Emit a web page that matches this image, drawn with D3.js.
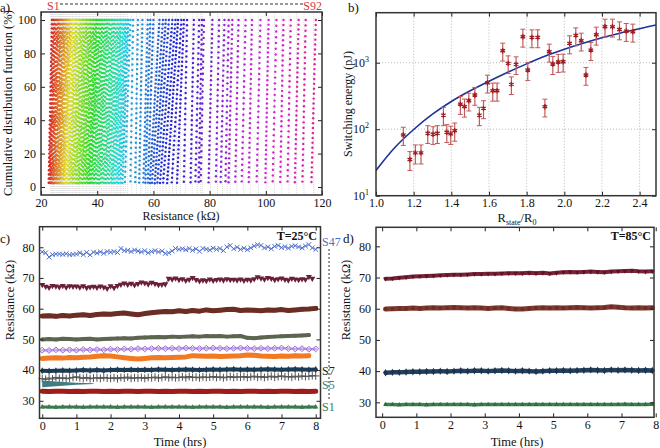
<!DOCTYPE html>
<html>
<head>
<meta charset="utf-8">
<script src="https://cdn.jsdelivr.net/npm/d3@7"></script>
<style>
body { margin: 0; background: #fff; }
</style>
</head>
<body>
<div id="viz"></div>
<script>
var serif = "Liberation Serif, Times New Roman, DejaVu Serif, serif";

// ---- panel a data: 92 states, centre resistance (kOhm), CDF spread, samples
var stateR = [
  23.3, 23.7, 24.1, 24.5, 24.9, 25.3, 25.7, 26.1, 26.5, 26.9,
  27.3, 27.7, 28.1, 28.5, 28.9, 29.3, 29.7, 30.2, 30.7, 31.2,
  31.7, 32.2, 32.7, 33.2, 33.7, 34.2, 34.7, 35.2, 35.7, 36.2,
  36.7, 37.2, 37.7, 38.2, 38.7, 39.2, 39.7, 40.3, 40.9, 41.5,
  42.1, 42.7, 43.3, 43.9, 44.5, 45.1, 45.7, 46.3, 46.8, 47.3,
  47.8, 48.3, 48.8, 49.4, 50.0, 50.8,
  52.3, 54.0, 55.5, 57.2, 58.0, 59.0, 60.4, 61.4, 62.4, 63.4,
  64.5, 65.6, 66.8, 68.2, 69.6,
  71.4, 73.8, 75.6, 76.7, 77.4, 80.3, 82.8, 84.6, 86.2, 87.4,
  89.7, 92.1, 94.5, 97.4, 100.4, 103.1, 105.7, 108.3, 111.0, 113.6, 117.0
];
var stateW = [
  1.2, 1.4, 1.6, 1.8, 2.0, 2.0, 2.2, 2.2, 2.4, 2.4,
  2.4, 2.4, 2.6, 2.6, 2.6, 2.6, 2.8, 2.8, 2.8, 2.8,
  2.8, 3.0, 3.0, 3.0, 3.0, 3.0, 3.0, 3.0, 3.0, 3.0,
  3.0, 3.0, 3.0, 3.0, 3.0, 3.2, 3.2, 3.2, 3.2, 3.2,
  3.2, 3.2, 3.2, 3.2, 3.2, 3.2, 3.2, 3.0, 3.0, 2.8,
  2.8, 2.6, 2.6, 2.4, 2.2, 2.0,
  1.0, 1.0, 1.2, 1.6, 1.8, 2.0, 3.5, 4.0, 4.0, 4.2,
  4.5, 4.5, 4.0, 3.5, 2.5,
  1.2, 1.2, 1.4, 1.2, 1.2, 1.4, 1.2, 1.4, 1.2, 1.4,
  1.2, 1.4, 1.2, 1.4, 1.2, 1.4, 1.2, 1.2, 1.4, 1.2, 1.6
];
var stateN = [
  40, 38, 42, 36, 40, 44, 38, 41, 37, 43,
  39, 42, 36, 40, 38, 44, 41, 37, 39, 43,
  40, 36, 42, 38, 41, 39, 44, 37, 40, 42,
  38, 41, 36, 43, 39, 40, 37, 42, 38, 41,
  44, 39, 36, 40, 42, 38, 41, 37, 43, 39,
  40, 36, 42, 38, 41, 33,
  30, 34, 38, 36, 40, 38, 42, 39, 44, 37,
  41, 38, 43, 36, 40,
  32, 35, 30, 34, 28, 36, 31, 33, 29, 35,
  32, 30, 34, 31, 36, 29, 33, 30, 35, 31, 34
];
var aXTicks = [20, 40, 60, 80, 100, 120];
var aYTicks = [0, 20, 40, 60, 80, 100];

// ---- panel b data
var ratio = [1.145, 1.18, 1.209, 1.239, 1.275, 1.303, 1.326, 1.358, 1.376, 1.397,
  1.418, 1.448, 1.47, 1.493, 1.525, 1.549, 1.571, 1.592, 1.62, 1.643,
  1.673, 1.702, 1.719, 1.744, 1.78, 1.806, 1.828, 1.859, 1.897, 1.92,
  1.939, 1.968, 1.994, 2.028, 2.061, 2.09, 2.115, 2.141, 2.17, 2.216,
  2.256, 2.293, 2.329, 2.364];
var energy = [82, 35, 44, 44, 87, 84, 87, 163, 90, 85,
  95, 239, 218, 268, 327, 163, 206, 500, 379, 379,
  1514, 977, 472, 944, 2455, 776, 2400, 2400, 218, 1462,
  955, 1025, 1035, 1950, 2570, 2140, 653, 1550, 2630, 3470,
  3470, 3160, 2990, 2920];
var energyErr = [25, 11, 14, 14, 26, 25, 26, 50, 27, 26,
  29, 72, 66, 80, 98, 50, 62, 150, 115, 115,
  455, 290, 140, 280, 740, 235, 720, 720, 65, 440,
  290, 310, 310, 590, 770, 640, 195, 470, 790, 1040,
  1040, 950, 900, 880];
var fitX = [1.0, 1.1, 1.2, 1.3, 1.4, 1.5, 1.6, 1.7, 1.8, 1.9, 2.0, 2.1, 2.2, 2.3, 2.4, 2.487];
var fitY = [24, 53, 99, 168, 261, 378, 526, 718, 960, 1260, 1590, 1960, 2370, 2800, 3250, 3700];
var bXTicks = [1.0, 1.2, 1.4, 1.6, 1.8, 2.0, 2.2, 2.4];
var bYTicks = [10, 100, 1000];

// ---- panel c data (kOhm), fine series every 0.1 h, others every 0.2 h
var cS47 = [78.5, 78.2, 76.8, 77.6, 77.8, 77.8, 77.7, 77.9, 77.6, 77.7,
  77.8, 78.2, 77.6, 78.3, 77.5, 78.4, 78.1, 78.5, 78.0, 78.6,
  78.4, 78.6, 78.3, 79.6, 78.9, 79.0, 78.6, 79.1, 78.8, 78.5,
  78.9, 78.2, 78.6, 78.9, 78.5, 78.8, 78.0, 78.2, 78.8, 79.6,
  79.3, 79.5, 79.2, 79.6, 79.0, 79.5, 78.7, 79.6, 79.4, 79.1,
  79.7, 79.3, 79.6, 78.9, 80.1, 80.6, 79.5, 80.0, 79.3, 79.7,
  79.2, 79.8, 80.4, 80.8, 80.6, 79.8, 80.1, 79.5, 80.3, 80.6,
  79.9, 80.2, 79.7, 80.3, 80.5, 80.1, 79.8, 80.4, 80.9, 79.8, 79.3];
var cMaroon = [67.8, 67.2, 66.9, 67.5, 67.3, 67.1, 67.5, 67.0, 67.4, 67.2,
  67.3, 67.0, 67.4, 66.8, 67.1, 67.2, 66.9, 67.3, 67.0, 66.6,
  67.4, 66.8, 67.5, 67.9, 68.3, 67.9, 68.2, 67.7, 68.1, 68.6,
  68.4, 68.0, 68.5, 68.1, 67.8, 67.9, 68.0, 69.8, 69.6, 69.9,
  69.4, 69.7, 69.2, 69.5, 70.1, 69.4, 69.0, 69.3, 69.1, 69.6,
  69.2, 69.4, 69.6, 69.3, 69.7, 69.4, 69.5, 69.3, 69.6, 69.2,
  69.5, 69.3, 69.7, 70.3, 69.9, 69.6, 70.1, 69.8, 69.4, 69.7,
  69.9, 69.5, 69.3, 69.8, 69.6, 69.4, 69.7, 69.5, 70.4, 69.8];
var cGreyPlus = [37.2, 37.0, 37.4, 37.1, 37.6, 37.3, 37.5, 37.2, 37.4, 37.6,
  37.8, 37.5, 37.3, 37.6, 37.2, 37.4, 37.5, 37.3, 37.6, 37.4,
  37.3, 37.5, 37.2, 37.6, 37.4, 37.7, 37.3, 37.5, 37.4, 37.6,
  37.3, 37.6, 37.5, 37.7, 37.4, 37.6, 37.8, 37.5, 37.7, 37.5,
  37.6, 37.8, 37.5, 37.9, 37.6, 37.7, 37.5, 37.8, 37.6, 37.7,
  37.9, 37.6, 37.8, 37.5, 37.7, 37.9, 37.6, 37.8, 37.7, 37.9,
  37.6, 37.8, 38.0, 37.7, 37.9, 37.6, 37.8, 38.0, 37.7, 37.9,
  38.1, 37.8, 37.9, 37.7, 38.0, 37.8, 38.1, 37.9, 38.0, 38.2, 38.1];
var cBrown = [57.6, 57.7, 57.5, 57.8, 57.6, 57.9, 58.0, 57.8, 58.1, 58.3,
  58.2, 58.4, 58.6, 58.3, 58.0, 58.4, 58.7, 58.9, 59.1, 59.0,
  59.3, 59.1, 59.4, 59.2, 59.6, 59.3, 59.5, 59.7, 59.8, 59.4,
  59.6, 59.5, 59.3, 59.6, 59.5, 59.7, 59.4, 59.6, 59.8, 59.9, 60.1];
var cOlive = [50.0, 50.1, 50.0, 50.2, 50.1, 50.0, 50.1, 50.2, 50.0, 50.1,
  50.2, 50.3, 50.4, 50.3, 50.5, 50.6, 50.7, 50.8, 50.7, 50.9,
  50.8, 50.9, 51.0, 50.9, 51.1, 51.0, 51.1, 50.9, 51.0, 51.1,
  50.5, 50.4, 50.6, 50.8, 50.9, 51.0, 51.1, 51.2, 51.3, 51.4];
var cPurple = [46.5, 46.4, 46.6, 46.5, 46.6, 46.5, 46.7, 46.6, 46.7, 46.6,
  46.8, 46.7, 46.9, 46.8, 47.0, 46.9, 47.0, 47.1, 47.0, 47.1,
  47.0, 47.2, 47.1, 47.0, 47.1, 47.2, 47.1, 47.0, 47.1, 47.2,
  47.1, 47.0, 47.1, 47.0, 47.1, 47.2, 47.0, 46.9, 47.0, 46.8, 46.9];
var cOrange = [43.8, 43.9, 44.0, 43.9, 44.1, 44.0, 44.2, 44.3, 44.5, 44.7,
  44.6, 44.3, 44.0, 43.8, 43.6, 43.8, 44.0, 44.1, 44.0, 44.1,
  44.2, 44.3, 44.7, 44.6, 44.5, 44.6, 44.4, 44.5, 44.6, 44.7,
  44.9, 44.8, 44.6, 44.5, 44.4, 44.6, 44.5, 44.7, 44.6, 44.7];
var cNavy = [39.8, 39.7, 39.8, 39.9, 39.8, 39.9, 40.0, 39.9, 40.0, 39.9,
  40.0, 40.1, 40.0, 40.1, 40.0, 40.1, 40.0, 40.2, 40.1, 40.0,
  40.1, 40.2, 40.1, 40.0, 40.1, 40.2, 40.1, 40.2, 40.3, 40.1,
  40.2, 40.1, 40.2, 40.3, 40.2, 40.1, 40.2, 40.3, 40.2, 40.1, 40.2];
var cRed = [33.1, 33.0, 33.1, 33.1, 33.0, 33.1, 33.0, 33.1, 33.1, 33.0,
  33.1, 33.0, 33.1, 33.1, 33.0, 33.1, 33.1, 33.0, 33.1, 33.0,
  33.1, 33.1, 33.0, 33.1, 33.0, 33.1, 33.1, 33.0, 33.1, 33.0,
  33.1, 33.1, 33.0, 33.1, 33.0, 33.1, 33.1, 33.0, 33.1, 33.0, 33.1];
var cGreen = [28.0, 28.0, 27.9, 28.0, 28.0, 28.0, 27.9, 28.0, 28.0, 28.0,
  28.0, 27.9, 28.0, 28.0, 28.0, 28.0, 27.9, 28.0, 28.0, 28.0,
  28.0, 28.0, 27.9, 28.0, 28.0, 28.0, 28.0, 27.9, 28.0, 28.0,
  28.0, 28.0, 28.0, 27.9, 28.0, 28.0, 28.0, 28.0, 27.9, 28.0, 28.0];
var tealHours = [0, 0.5, 1.0, 1.5];
var tealHi = [36.6, 36.2, 35.9, 35.7];
var tealLo = [34.4, 34.8, 35.2, 35.5];
var hrTicks = [0, 1, 2, 3, 4, 5, 6, 7, 8];
var resTicks = [30, 40, 50, 60, 70, 80];

// ---- panel d data (kOhm), every 0.2 h starting 0.1 h
var dMaroon = [69.6, 69.7, 69.9, 70.1, 70.3, 70.4, 70.5, 70.6, 70.7, 70.8,
  70.9, 70.9, 71.0, 71.1, 71.1, 71.2, 71.2, 71.3, 71.4, 71.4,
  71.4, 71.5, 71.4, 71.5, 71.3, 71.5, 71.7, 71.8, 71.7, 71.8,
  71.9, 71.8, 71.7, 71.9, 72.0, 72.1, 72.2, 72.0, 71.9, 72.0];
var dBrown = [59.9, 60.0, 60.1, 60.1, 60.2, 60.1, 60.2, 60.3, 60.2, 60.3,
  60.4, 60.3, 60.2, 60.3, 60.2, 60.1, 60.2, 60.3, 60.1, 59.9,
  59.9, 60.1, 60.2, 60.3, 60.2, 60.3, 60.2, 60.3, 60.4, 60.3,
  60.2, 60.3, 60.4, 60.6, 60.5, 60.3, 60.2, 60.3, 60.2, 60.3];
var dNavy = [39.5, 39.6, 39.6, 39.7, 39.8, 39.8, 39.9, 39.9, 40.0, 39.9,
  40.0, 40.1, 40.0, 40.1, 40.1, 40.0, 40.1, 40.2, 40.1, 40.0,
  40.1, 40.0, 39.9, 40.0, 40.1, 40.1, 40.2, 40.1, 40.2, 40.3,
  40.4, 40.3, 40.2, 40.4, 40.3, 40.4, 40.3, 40.2, 40.3, 40.2];
var dGreen = [29.3, 29.3, 29.2, 29.3, 29.3, 29.3, 29.2, 29.3, 29.3, 29.3,
  29.3, 29.3, 29.3, 29.2, 29.3, 29.3, 29.3, 29.3, 29.3, 29.3,
  29.3, 29.3, 29.3, 29.3, 29.3, 29.3, 29.3, 29.3, 29.3, 29.3,
  29.3, 29.3, 29.3, 29.3, 29.3, 29.4, 29.3, 29.3, 29.3, 29.4];

var svg = d3.select("#viz")
  .append("svg")
  .attr("width", 660)
  .attr("height", 448)
  .attr("font-family", serif);

// box + inward ticks on all four sides, labels bottom and left
function frame(g, x, y, xt, yt, xfmt, yfmt) {
  var x0 = x.range()[0], x1 = x.range()[1];
  var y0 = y.range()[0], y1 = y.range()[1];
  g.append("g").attr("transform", "translate(0," + y0 + ")")
    .call(d3.axisBottom(x).tickValues(xt).tickSize(-4).tickPadding(3).tickFormat(xfmt));
  g.append("g").attr("transform", "translate(0," + y1 + ")")
    .call(d3.axisTop(x).tickValues(xt).tickSize(-4).tickFormat(""));
  g.append("g").attr("transform", "translate(" + x0 + ",0)")
    .call(d3.axisLeft(y).tickValues(yt).tickSize(-4).tickPadding(5).tickFormat(yfmt));
  g.append("g").attr("transform", "translate(" + x1 + ",0)")
    .call(d3.axisRight(y).tickValues(yt).tickSize(-4).tickFormat(""));
  g.selectAll(".domain").remove();
  g.selectAll(".tick line").attr("stroke", "#222").attr("stroke-width", 1);
  g.selectAll("g").attr("font-family", serif);
  g.selectAll(".tick text").attr("font-size", "12px").attr("fill", "#111")
    .attr("font-family", serif);
  g.append("rect")
    .attr("x", x0).attr("y", y1)
    .attr("width", x1 - x0).attr("height", y0 - y1)
    .attr("fill", "none").attr("stroke", "#333").attr("stroke-width", 1.5);
}

function label(txt, x, y, size, opts) {
  var t = svg.append("text").text(txt)
    .attr("x", x).attr("y", y)
    .attr("font-family", serif)
    .attr("font-size", size + "px")
    .attr("fill", "#111");
  if (opts) for (var k in opts) t.attr(k, opts[k]);
  return t;
}

// ================= panel a =================
var ax = d3.scaleLinear().domain([20, 120]).range([41, 322]);
var ay = d3.scaleLinear().domain([-4.8, 104.8]).range([195, 12]);
var hue = d3.scaleLinear().domain([0, stateR.length - 1]).range([0, 322]);
var pa = svg.append("g");

// faint guide for each state
pa.selectAll("line.guide")
  .data(stateR)
  .enter()
  .append("line")
  .attr("x1", function(d) { return ax(d); })
  .attr("x2", function(d) { return ax(d); })
  .attr("y1", ay.range()[0])
  .attr("y2", ay.range()[1])
  .attr("stroke", "#c4c4c4")
  .attr("stroke-width", 0.6)
  .attr("stroke-dasharray", "1,1");

// each state's sorted samples sit at CDF levels k/n
var aPts = [];
stateR.forEach(function(r, i) {
  var n = stateN[i];
  for (var k = 1; k <= n; k++) {
    var p = k / n;
    aPts.push({ s: i, r: r + stateW[i] * (p - 0.5), p: p * 100 });
  }
});

pa.selectAll("circle")
  .data(aPts)
  .enter()
  .append("circle")
  .attr("cx", function(d) { return ax(d.r); })
  .attr("cy", function(d) { return ay(d.p); })
  .attr("r", 1.2)
  .attr("fill", function(d) { return d3.hsl(hue(d.s), 0.75, 0.5).toString(); });

frame(pa, ax, ay, aXTicks, aYTicks, d3.format("d"), d3.format("d"));

label("a)", 0, 12, 13);
label("S1", 47, 10, 12, { fill: "#d9363e" });
label("S92", 322, 10, 12, { fill: "#d9363e", "text-anchor": "end" });
svg.append("line")
  .attr("x1", 60).attr("x2", 303).attr("y1", 4).attr("y2", 4)
  .attr("stroke", "#333").attr("stroke-dasharray", "3,2");
label("Resistance (k\u03a9)", 181, 220, 12, { "text-anchor": "middle" });
label("Cumulative distribution function (%)", 0, 0, 12.5,
  { "text-anchor": "middle", transform: "translate(12,103) rotate(-90)" });

// ================= panel b =================
var bx = d3.scaleLinear().domain([1.0, 2.487]).range([376, 656]);
var by = d3.scaleLog().domain([10, 5650]).range([195.7, 12.7]);
var pb = svg.append("g");

pb.selectAll("line.gx")
  .data(bXTicks.slice(1))
  .enter().append("line")
  .attr("x1", function(d) { return bx(d); })
  .attr("x2", function(d) { return bx(d); })
  .attr("y1", by.range()[0]).attr("y2", by.range()[1])
  .attr("stroke", "#999").attr("stroke-width", 0.7).attr("stroke-dasharray", "1,2");
pb.selectAll("line.gy")
  .data(bYTicks.slice(1))
  .enter().append("line")
  .attr("x1", bx.range()[0]).attr("x2", bx.range()[1])
  .attr("y1", function(d) { return by(d); })
  .attr("y2", function(d) { return by(d); })
  .attr("stroke", "#999").attr("stroke-width", 0.7).attr("stroke-dasharray", "1,2");

pb.append("clipPath").attr("id", "clipb").append("rect")
  .attr("x", 376).attr("y", 12.7).attr("width", 280).attr("height", 183);

var fitLine = d3.line()
  .x(function(d, i) { return bx(fitX[i]); })
  .y(function(d) { return by(d); })
  .curve(d3.curveMonotoneX);
pb.append("path")
  .attr("d", fitLine(fitY))
  .attr("clip-path", "url(#clipb)")
  .attr("fill", "none")
  .attr("stroke", "#1f3296")
  .attr("stroke-width", 1.6);

var bPts = pb.selectAll("g.pt")
  .data(energy)
  .enter().append("g")
  .attr("transform", function(d, i) { return "translate(" + bx(ratio[i]) + ",0)"; });
bPts.append("line")
  .attr("y1", function(d, i) { return by(d + energyErr[i]); })
  .attr("y2", function(d, i) { return by(d - energyErr[i]); })
  .attr("stroke", "#c05a5c").attr("stroke-width", 1.2);
bPts.append("line")
  .attr("x1", -2.5).attr("x2", 2.5)
  .attr("y1", function(d, i) { return by(d + energyErr[i]); })
  .attr("y2", function(d, i) { return by(d + energyErr[i]); })
  .attr("stroke", "#c05a5c").attr("stroke-width", 1);
bPts.append("line")
  .attr("x1", -2.5).attr("x2", 2.5)
  .attr("y1", function(d, i) { return by(d - energyErr[i]); })
  .attr("y2", function(d, i) { return by(d - energyErr[i]); })
  .attr("stroke", "#c05a5c").attr("stroke-width", 1);
bPts.append("path")
  .attr("transform", function(d) { return "translate(0," + by(d) + ")"; })
  .attr("d", d3.symbol(d3.symbolAsterisk, 20)())
  .attr("fill", "none").attr("stroke", "#9e1c22").attr("stroke-width", 1.3);

frame(pb, bx, by, bXTicks, bYTicks, d3.format(".1f"), function() { return ""; });
// superscript decade labels
bYTicks.forEach(function(v) {
  var t = label("10", 369, by(v) + 4, 12, { "text-anchor": "end" });
  t.append("tspan").text(Math.round(Math.log10(v)))
    .attr("font-size", "8px").attr("dy", "-5");
});

label("b)", 348, 12, 13);
var bxl = label("R", 517, 222, 12.5, { "text-anchor": "middle" });
bxl.append("tspan").text("state").attr("font-size", "8px").attr("dy", 3);
bxl.append("tspan").text("/R").attr("dy", -3);
bxl.append("tspan").text("0").attr("font-size", "8px").attr("dy", 3);
label("Switching energy (pJ)", 0, 0, 12,
  { "text-anchor": "middle", transform: "translate(352,104) rotate(-90)" });

// ================= panels c and d =================
function hoursFrom(arr, start, step) {
  return arr.map(function(v, i) { return { t: start + i * step, v: v }; });
}

function drawSeries(g, x, y, s) {
  var pts = hoursFrom(s.data, s.start, s.step);
  var line = d3.line().x(function(d) { return x(d.t); }).y(function(d) { return y(d.v); });
  g.append("path")
    .attr("d", line(pts))
    .attr("fill", "none")
    .attr("stroke", s.line || s.color)
    .attr("stroke-width", s.width)
    .attr("stroke-linejoin", "round")
    .attr("stroke-linecap", "round");
  if (s.symbol) {
    g.selectAll(null)
      .data(pts)
      .enter().append("path")
      .attr("transform", function(d) {
        return "translate(" + x(d.t) + "," + y(d.v) + ")" + (s.rotate ? " rotate(180)" : "");
      })
      .attr("d", d3.symbol(s.symbol, s.size)())
      .attr("fill", s.fill ? s.color : "none")
      .attr("stroke", s.fill ? "none" : s.color)
      .attr("stroke-width", 1);
  }
}

// panel c
var cx = d3.scaleLinear().domain([-0.08, 8.14]).range([39.5, 320.5]);
var cy = d3.scaleLinear().domain([24.3, 86.7]).range([418.3, 226.7]);
var pc = svg.append("g");

var cSeries = [
  { data: cS47, start: 0, step: 0.1, color: "#4f6fca", line: "#9fb2e6", width: 1, symbol: d3.symbolTimes, size: 16 },
  { data: cMaroon, start: 0, step: 0.1, color: "#6a1f38", line: "#8a4a5c", width: 1, symbol: d3.symbolTriangle, size: 16, fill: true, rotate: true },
  { data: cBrown, start: 0, step: 0.2, color: "#6b2d24", width: 5, symbol: d3.symbolSquare, size: 16, fill: true },
  { data: cOlive, start: 0, step: 0.2, color: "#5c6550", width: 4, symbol: d3.symbolCircle, size: 12, fill: true },
  { data: cPurple, start: 0, step: 0.2, color: "#9a68d4", line: "#c6a8ec", width: 2.5, symbol: d3.symbolDiamond2, size: 22 },
  { data: cOrange, start: 0, step: 0.2, color: "#f27a22", width: 5, symbol: d3.symbolSquare, size: 14, fill: true },
  { data: cNavy, start: 0, step: 0.2, color: "#1d3a55", width: 4, symbol: d3.symbolDiamond, size: 14, fill: true },
  { data: cGreyPlus, start: 0, step: 0.1, color: "#555", line: "#999", width: 1, symbol: d3.symbolPlus, size: 22 },
  { data: cRed, start: 0, step: 0.2, color: "#a11b1b", width: 5, symbol: d3.symbolSquare, size: 12, fill: true },
  { data: cGreen, start: 0, step: 0.2, color: "#3b7a4c", width: 3, symbol: d3.symbolTriangle, size: 12, fill: true }
];
cSeries.forEach(function(s) { drawSeries(pc, cx, cy, s); });

var tealArea = d3.area()
  .x(function(d, i) { return cx(tealHours[i]); })
  .y0(function(d, i) { return cy(tealLo[i]); })
  .y1(function(d) { return cy(d); });
pc.append("path").attr("d", tealArea(tealHi)).attr("fill", "#3f7d82");

frame(pc, cx, cy, hrTicks, resTicks, d3.format("d"), d3.format("d"));
label("T=25\u00b0C", 317, 240, 12, { "text-anchor": "end", "font-weight": "bold" });
label("c)", 0, 243, 13);
label("Time (hrs)", 180, 446, 12.5, { "text-anchor": "middle" });
label("Resistance (k\u03a9)", 0, 0, 12.5,
  { "text-anchor": "middle", transform: "translate(14,300) rotate(-90)" });

svg.append("line")
  .attr("x1", 329).attr("x2", 329).attr("y1", 249).attr("y2", 400)
  .attr("stroke", "#333").attr("stroke-dasharray", "2,2");
label("S47", 322, 246, 12, { fill: "#4f6fca" });
label("S7", 322, 375, 12, { fill: "#222" });
label("S5", 322, 389, 12, { fill: "#3f7d82" });
label("S1", 322, 411, 12, { fill: "#3b7a4c" });

// panel d
var dx = d3.scaleLinear().domain([-0.18, 7.95]).range([376, 654]);
var dy = d3.scaleLinear().domain([25.2, 86.1]).range([417.3, 227.3]);
var pd = svg.append("g");

var dSeries = [
  { data: dMaroon, start: 0.1, step: 0.2, color: "#5e1428", line: "#7a2438", width: 4, symbol: d3.symbolTriangle, size: 10, fill: true, rotate: true },
  { data: dBrown, start: 0.1, step: 0.2, color: "#6e2c24", line: "#7e3a30", width: 5, symbol: d3.symbolSquare, size: 12, fill: true },
  { data: dNavy, start: 0.1, step: 0.2, color: "#1b3550", line: "#233f5c", width: 4.5, symbol: d3.symbolDiamond, size: 16, fill: true },
  { data: dGreen, start: 0.1, step: 0.2, color: "#2f6e40", line: "#3f8050", width: 3.5, symbol: d3.symbolTriangle, size: 10, fill: true }
];
dSeries.forEach(function(s) { drawSeries(pd, dx, dy, s); });

frame(pd, dx, dy, hrTicks, resTicks, d3.format("d"), d3.format("d"));
label("T=85\u00b0C", 651, 240, 12, { "text-anchor": "end", "font-weight": "bold" });
label("d)", 343, 243, 13);
label("Time (hrs)", 517, 446, 12.5, { "text-anchor": "middle" });
label("Resistance (k\u03a9)", 0, 0, 12.5,
  { "text-anchor": "middle", transform: "translate(350,300) rotate(-90)" });
</script>
</body>
</html>
